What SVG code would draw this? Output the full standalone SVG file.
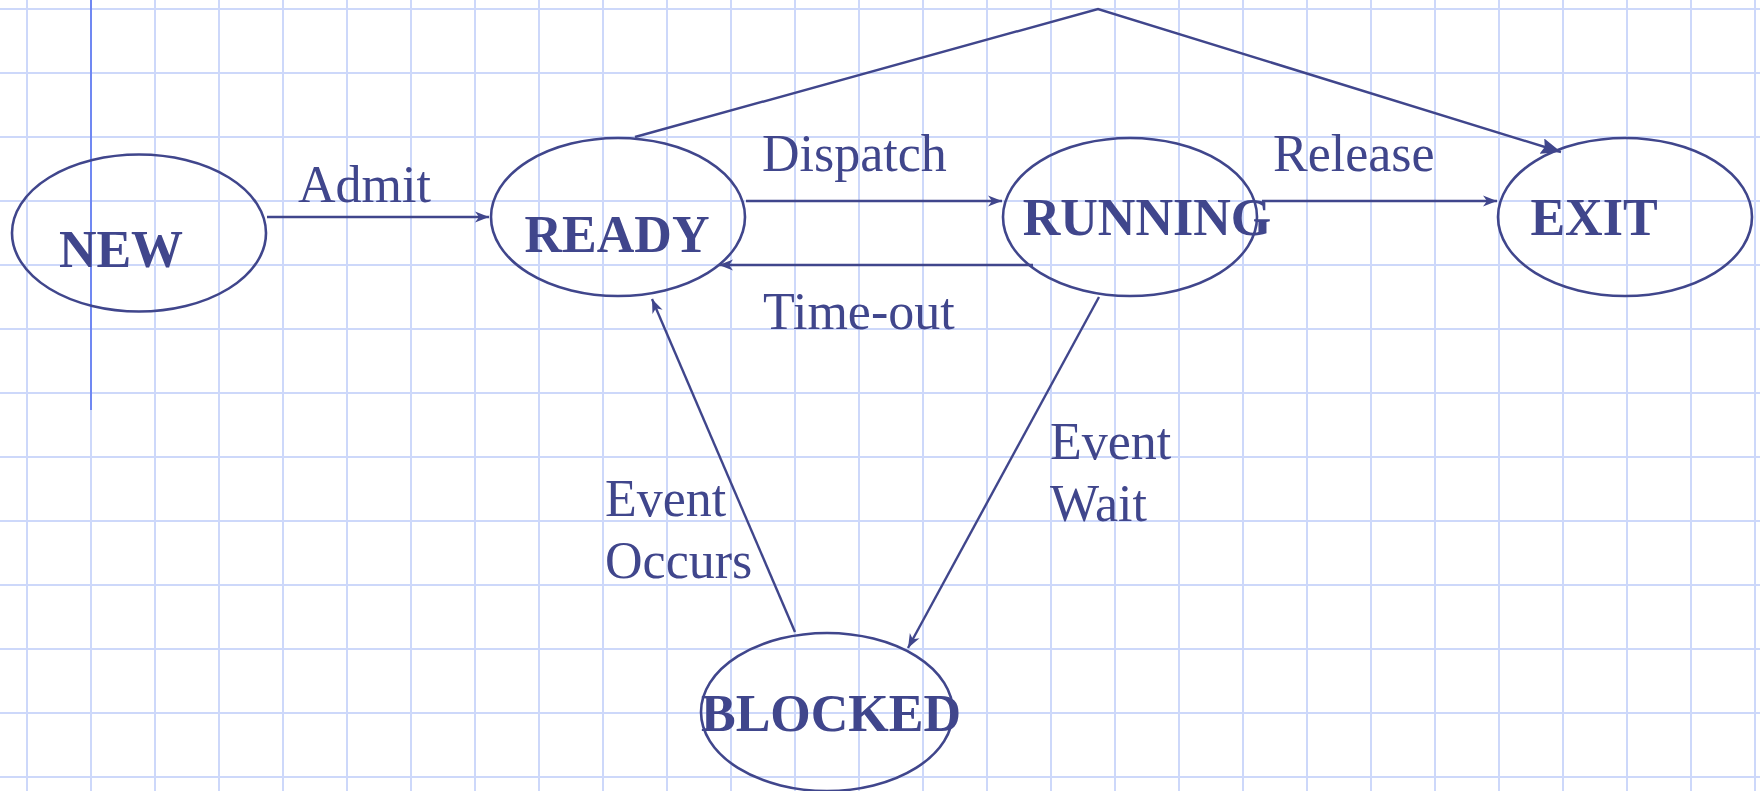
<svg xmlns="http://www.w3.org/2000/svg" width="1760" height="791" viewBox="0 0 1760 791">
<style>
.grid{stroke:#cdd8fa;stroke-width:2;fill:none}
.node{fill:none;stroke:#40468c;stroke-width:2.6}
.conn{fill:none;stroke:#40468c;stroke-width:2.4}
.nl{font-family:"Liberation Serif","Times New Roman",serif;font-weight:bold;font-size:52px;fill:#40468c;text-anchor:middle}
.lbl{font-family:"Liberation Serif","Times New Roman",serif;font-size:52px;fill:#40468c}
</style>
<defs>
<marker id="ah" markerUnits="userSpaceOnUse" markerWidth="16" markerHeight="12" refX="14" refY="6" orient="auto">
<path d="M0,0.5 L14,6 L0,11.5 L4,6 Z" fill="#40468c"/>
</marker>
<marker id="ahb" markerUnits="userSpaceOnUse" markerWidth="22" markerHeight="16" refX="20" refY="8" orient="auto">
<path d="M0,0 L20,8 L0,16 L3,8 Z" fill="#40468c"/>
</marker>
</defs>
<rect width="1760" height="791" fill="#ffffff"/>
<g id="grid">
<path class="grid" d="M27,0V791M91,0V791M155,0V791M219,0V791M283,0V791M347,0V791M411,0V791M475,0V791M539,0V791M603,0V791M667,0V791M731,0V791M795,0V791M859,0V791M923,0V791M987,0V791M1051,0V791M1115,0V791M1179,0V791M1243,0V791M1307,0V791M1371,0V791M1435,0V791M1499,0V791M1563,0V791M1627,0V791M1691,0V791M1755,0V791"/>
<path class="grid" d="M0,9H1760M0,73H1760M0,137H1760M0,201H1760M0,265H1760M0,329H1760M0,393H1760M0,457H1760M0,521H1760M0,585H1760M0,649H1760M0,713H1760M0,777H1760"/>
<line x1="91" y1="0" x2="91" y2="410" stroke="#7088f2" stroke-width="2"/>
</g>
<g id="connectors">
<line class="conn" x1="267" y1="217" x2="489" y2="217" marker-end="url(#ah)"/>
<line class="conn" x1="746" y1="201" x2="1002" y2="201" marker-end="url(#ah)"/>
<line class="conn" x1="1033" y1="265" x2="719" y2="265" marker-end="url(#ah)"/>
<line class="conn" x1="1262" y1="201" x2="1497" y2="201" marker-end="url(#ah)"/>
<polyline class="conn" points="635,137 1098,9 1561,152" marker-end="url(#ahb)"/>
<line class="conn" x1="1099" y1="297" x2="908" y2="648" marker-end="url(#ah)"/>
<line class="conn" x1="795" y1="632" x2="652" y2="299" marker-end="url(#ah)"/>
</g>
<g id="labels">
<text class="lbl" x="298" y="202">Admit</text>
<text class="lbl" x="762" y="171">Dispatch</text>
<text class="lbl" x="763" y="329">Time-out</text>
<text class="lbl" x="1273" y="171">Release</text>
<text class="lbl" x="1050" y="459">Event</text>
<text class="lbl" x="1050" y="521">Wait</text>
<text class="lbl" x="605" y="516">Event</text>
<text class="lbl" x="605" y="578">Occurs</text>
</g>
<g id="new">
<ellipse class="node" cx="139" cy="233" rx="127" ry="78.5"/>
<text class="nl" x="121" y="267">NEW</text>
</g>
<g id="ready">
<ellipse class="node" cx="618" cy="217" rx="127" ry="79"/>
<text class="nl" x="617" y="252">READY</text>
</g>
<g id="running">
<ellipse class="node" cx="1130" cy="217" rx="127" ry="79"/>
<text class="nl" x="1147" y="235">RUNNING</text>
</g>
<g id="exit">
<ellipse class="node" cx="1625" cy="217" rx="127" ry="79"/>
<text class="nl" x="1594" y="235">EXIT</text>
</g>
<g id="blocked">
<ellipse class="node" cx="827" cy="712" rx="126" ry="79"/>
<text class="nl" x="831" y="731">BLOCKED</text>
</g>
</svg>
